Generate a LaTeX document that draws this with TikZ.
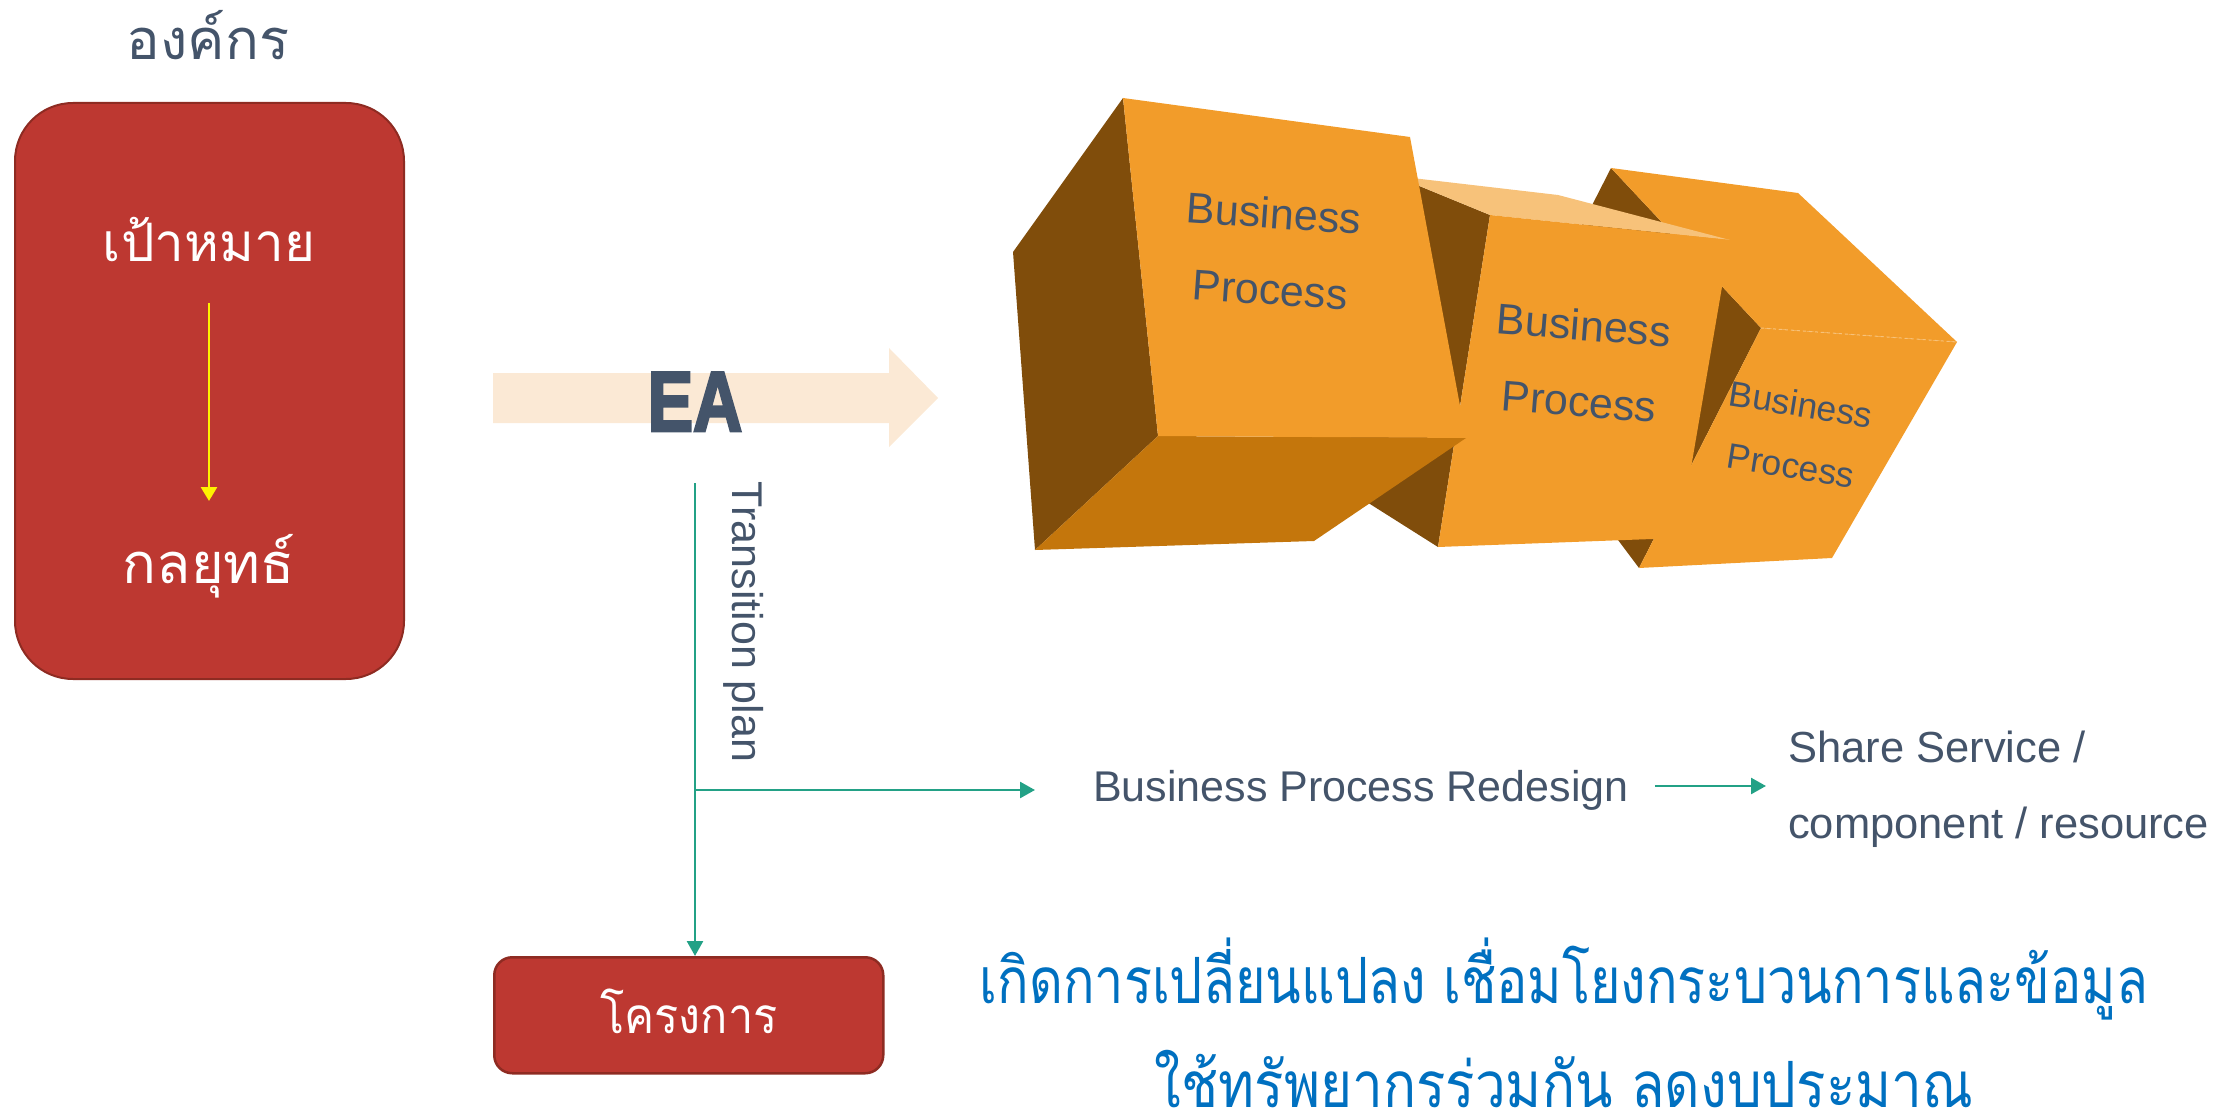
\documentclass[tikz,border=0pt]{standalone}
\usepackage{fontspec}
\setmainfont{Liberation Sans}
\newfontfamily\thai[Script=Thai]{Loma}
\newfontfamily\eafont[BoldFeatures={FakeBold=3.5}]{Liberation Sans}
\usetikzlibrary{arrows.meta,calc}
\definecolor{slate}{HTML}{44546A}
\definecolor{redfill}{HTML}{BD3831}
\definecolor{redline}{HTML}{8E2B22}
\definecolor{gline}{HTML}{23A186}
\definecolor{peach}{HTML}{FBE9D5}
\definecolor{orfront}{HTML}{F29C2A}
\definecolor{ordark}{HTML}{804D0B}
\definecolor{orbottom}{HTML}{C4760C}
\definecolor{ortop}{HTML}{F7C27A}
\definecolor{bluetext}{HTML}{0070C0}
\newcommand{\fsz}[2]{\fontsize{#1}{#2}\selectfont}
\begin{document}
\begin{tikzpicture}[x=1pt,y=-1pt,
  every node/.style={inner sep=0pt},
  redbox/.style={fill=redfill, draw=redline, line width=2pt},
  garrow/.style={draw=gline, line width=2.6pt, -{Triangle[length=15pt,width=16pt]}},
  yarrow/.style={draw=yellow, line width=2.8pt, -{Triangle[length=14pt,width=16pt]}},
  cubetxt/.style={text=slate, font=\fsz{43pt}{50pt}},
  smallcubetxt/.style={text=slate, font=\fsz{35.5pt}{40pt}},
  slatetxt/.style={text=slate, font=\fsz{43.5pt}{76pt}},
  thaiwhite/.style={text=white, font=\thai\fsz{56pt}{60pt}},
  bluetxt/.style={text=bluetext, font=\thai\fsz{58pt}{60pt}}]
\useasboundingbox (0,0) rectangle (2220,1115);

% ---- organisation ----
\node[text=slate, font=\thai\fsz{56pt}{60pt}, anchor=base] (org) at (208,60) {องค์กร};
\node[redbox, rounded corners=58pt, minimum width=389pt, minimum height=576pt, anchor=north west] (orgbox) at (14,102) {};
\node[thaiwhite, font=\thai\fsz{53pt}{60pt}, anchor=base] (goal) at (209,262) {เป้าหมาย};
\node[thaiwhite, anchor=base] (strat) at (209,583) {กลยุทธ์};
\draw[yarrow] ([yshift=-41pt]goal.base) -- ([yshift=82pt]strat.base);

% ---- EA arrow ----
\fill[peach] (493,373) -- (889,373) -- (889,348) -- (938,398) -- (889,447) -- (889,423) -- (493,423) -- cycle;
\node[text=slate, font=\eafont\bfseries\fsz{85pt}{90pt}, anchor=base] (ea) at (695,431) {\scalebox{0.8}[1]{EA}};

% ---- cube 3 (back) ----
\fill[ordark] (1611,168) -- (1761,328) -- (1639,568) -- (1501,384) -- cycle;
\fill[orfront] (1611,168) -- (1798,193) -- (1957,342) -- (1761,328) -- cycle;
\fill[orfront] (1761,328) -- (1957,342) -- (1832,558) -- (1639,568) -- cycle;
\draw[ortop, line width=1pt, dashed] (1761,328) -- (1957,342);
% ---- cube 2 ----
\fill[ordark] (1395,176) -- (1490,215) -- (1438,547) -- (1332,480) -- cycle;
\fill[ortop] (1395,176) -- (1558,195) -- (1730,240) -- (1490,215) -- cycle;
\fill[orfront] (1490,215) -- (1730,240) -- (1679,538) -- (1438,547) -- cycle;
% ---- cube 1 (front) ----
\fill[ordark] (1123,98) -- (1013,252) -- (1035,550) -- (1158,436) -- cycle;
\fill[orbottom] (1158,436) -- (1466,438) -- (1314,541) -- (1035,550) -- cycle;
\fill[orfront] (1123,98) -- (1410,137) -- (1466,438) -- (1158,436) -- cycle;

\node[cubetxt, rotate=-4] (c1a) at (1274,213) {Business};
\node[cubetxt, rotate=-4] (c1b) at (1270,290) {Process};
\node[cubetxt, rotate=-4.5] (c2a) at (1584,325) {Business};
\node[cubetxt, rotate=-4.5] (c2b) at (1579,402) {Process};
\node[smallcubetxt, rotate=-9] (c3a) at (1801,404) {Business};
\node[smallcubetxt, rotate=-9] (c3b) at (1791,466) {Process};

% ---- transition plan ----
\coordinate (tp) at (695,483);
\node[slatetxt, font=\fsz{43pt}{50pt}, rotate=-90] (tplan) at (744,622) {Transition plan};
\node[redbox, line width=2.5pt, rounded corners=18pt, minimum width=389pt, minimum height=116pt, anchor=north west] (proj) at (493,956) {};
\node[thaiwhite, font=\thai\fsz{45pt}{60pt}, anchor=base] (projtxt) at (689,1033) {\scalebox{1}[1.1]{โครงการ}};
\draw[garrow] (tp) -- (tp |- proj.north);

\node[slatetxt, font=\fsz{43pt}{50pt}, anchor=base west] (bpr) at (1093,801) {Business Process Redesign};
\node[slatetxt, align=left, anchor=north west] (share) at (1788,731) {Share Service /\\component / resource};
\draw[garrow] ($(tp |- bpr.base)+(0,-11)$) -- ($(bpr.base west)+(-58,-11)$);
\draw[garrow] ($(bpr.base east)+(26,-15)$) -- ($(bpr.base east -| share.west)+(-22,-15)$);

% ---- blue conclusion ----
\node[bluetxt, anchor=base] (blue1) at (1564,1003) {\scalebox{0.9}[1.1]{เกิดการเปลี่ยนแปลง เชื่อมโยงกระบวนการและข้อมูล}};
\node[bluetxt, anchor=base] (blue2) at (1564,1107) {\scalebox{0.945}[1.1]{ใช้ทรัพยากรร่วมกัน ลดงบประมาณ}};
\end{tikzpicture}
\end{document}
